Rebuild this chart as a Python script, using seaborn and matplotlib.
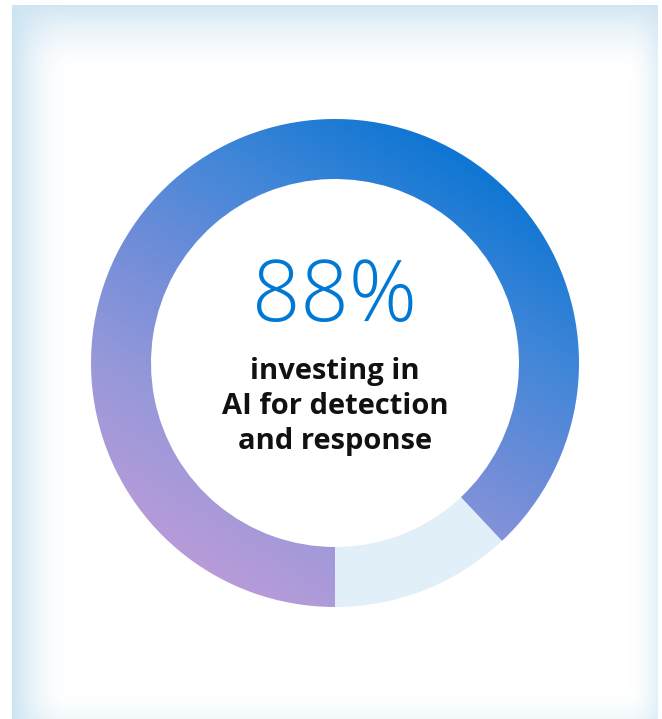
import numpy as np
import matplotlib
matplotlib.use("Agg")
import matplotlib.pyplot as plt
from matplotlib.colors import LinearSegmentedColormap, to_rgb
import seaborn as sns

# values
share_label = "88%"
shares = [88, 12]
caption = ["investing in", "AI for detection", "and response"]

ring_stops = ["#0f76d3", "#3f86d8", "#6f8dd8", "#9698da", "#b89bd8"]
rest_color = "#e1eff8"
glow_color = "#cce4f2"
pct_color = "#0078d4"

sns.set_theme(style="white")
plt.rcParams["font.family"] = ["Open Sans", "DejaVu Sans"]

W, H = 662, 719
fig = plt.figure(figsize=(W / 100, H / 100), dpi=100)
fig.patch.set_facecolor("white")

# soft glowing panel behind the chart
bg = fig.add_axes([0, 0, 1, 1])
bg.set_xlim(0, W)
bg.set_ylim(H, 0)
bg.axis("off")
x0, x1, y0, y1 = 12, 658, 5, 719
yy, xx = np.mgrid[0:H, 0:W] + 0.5


def fall(d, length, strength):
    t = np.clip(1 - d / length, 0, 1)
    return strength * t ** 1.8


a = 1 - (1 - fall(xx - x0, 55, 1.0)) * (1 - fall(yy - y0, 70, 0.9)) \
    * (1 - fall(x1 - xx, 30, 0.55)) * (1 - fall(y1 - yy, 30, 0.25))
inside = (xx >= x0) & (xx <= x1) & (yy >= y0)
a = np.where(inside, a, 0)
gc = np.array(to_rgb(glow_color))
img = 1 - a[..., None] * (1 - gc)
bg.imshow(img, extent=(0, W, H, 0), interpolation="bilinear", zorder=0)

# donut
cx, cy, R, ring_w = 335, 363, 244, 60
ax = fig.add_axes([(cx - R) / W, (H - cy - R) / H, 2 * R / W, 2 * R / H])
ax.patch.set_alpha(0)
start = 270 + shares[1] * 360 / 100
wedges, _ = ax.pie(shares, startangle=start, counterclock=True,
                   colors=["none", rest_color],
                   wedgeprops=dict(width=ring_w / R, linewidth=0))
ax.set_xlim(-1, 1)
ax.set_ylim(-1, 1)
ax.axis("off")

# diagonal gradient for the main share
cmap = LinearSegmentedColormap.from_list("ring", ring_stops)
gy, gx = np.mgrid[1:-1:400j, -1:1:400j]
ang = np.deg2rad(58)
proj = -gx * np.cos(ang) - gy * np.sin(ang)
proj = (proj + 1) / 2
grad = ax.imshow(proj, extent=(-1, 1, -1, 1), cmap=cmap, vmin=0, vmax=1,
                 origin="upper", interpolation="bilinear", zorder=1)
grad.set_clip_path(wedges[0])

fig.text(cx / W, 1 - 299 / H, share_label, ha="center", va="center",
         fontsize=61, color=pct_color, fontweight="light")
for i, line in enumerate(caption):
    fig.text(cx / W, 1 - (371 + i * 35.5) / H, line, ha="center", va="center",
             fontsize=21, color="#111111", fontweight="bold")

fig.savefig("out.png", dpi=100)
